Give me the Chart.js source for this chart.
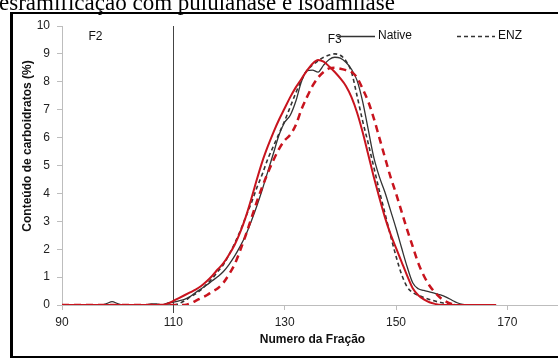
<!DOCTYPE html>
<html><head><meta charset="utf-8">
<script src="https://cdn.jsdelivr.net/npm/chart.js@4.4.1/dist/chart.umd.min.js"></script>
<style>html,body{margin:0;padding:0;overflow:hidden;background:#fff;width:558px;height:360px}canvas{display:block}</style>
</head><body>
<canvas id="c" width="564" height="360"></canvas>
<script>
// Tick labels
const xTicks = [90, 110, 130, 150, 170];
const yTicks = [0, 1, 2, 3, 4, 5, 6, 7, 8, 9, 10];

// Native (black solid)
const nativeX = [90,97,98,99,100,101,105,106,107,108,109,110,111,112,113,114,115,116,117,118,119,120,121,122,123,124,125,126,127,128,129,130,131,132,133,134,135,136,137,138,139,140,141,142,143,144,145,146,147,148,149,150,151,152,153,154,155,156,157,158,159,160,161,162,163];
const nativeY = [0,0,0.05,0.12,0.05,0,0,0.04,0.04,0,0.08,0.1,0.15,0.2,0.3,0.45,0.58,0.72,0.87,1.02,1.2,1.45,1.75,2.1,2.5,3.0,3.55,4.15,4.8,5.45,6.1,6.55,6.8,7.3,8.0,8.4,8.42,8.35,8.6,8.8,8.88,8.85,8.7,8.45,8.05,7.3,6.3,5.3,4.6,4.05,3.4,2.75,2.05,1.37,0.8,0.58,0.52,0.47,0.42,0.36,0.28,0.18,0.08,0.02,0];

// ENZ (black dashed)
const enzX = [90,109,110,111,112,113,114,115,116,117,118,119,120,121,122,123,124,125,126,127,128,129,130,131,132,133,134,135,136,137,138,139,140,141,142,143,144,145,146,147,148,149,150,151,152,153,154,155,156,157,158,159,160,161];
const enzY = [0,0,0,0.05,0.15,0.28,0.4,0.55,0.75,0.95,1.2,1.45,1.8,2.2,2.65,3.15,3.65,4.2,4.7,5.25,5.7,6.15,6.6,7.1,7.6,8.05,8.4,8.6,8.75,8.88,8.96,9.0,8.95,8.75,8.35,7.5,6.6,5.8,4.95,4.1,3.3,2.5,1.75,1.1,0.65,0.45,0.35,0.27,0.2,0.14,0.09,0.05,0.02,0];

// Native 2 (red solid)
const redX = [90,108,109,110,111,112,113,114,115,116,117,118,119,120,121,122,123,124,125,126,127,128,129,130,131,132,133,134,135,136,137,138,139,140,141,142,143,144,145,146,147,148,149,150,151,152,153,154,155,156,157,158,168];
const redY = [0,0,0.05,0.15,0.25,0.35,0.45,0.55,0.68,0.85,1.05,1.28,1.5,1.8,2.15,2.6,3.15,3.8,4.5,5.15,5.7,6.2,6.65,7.05,7.45,7.8,8.1,8.4,8.65,8.78,8.72,8.55,8.35,8.12,7.85,7.45,6.9,6.2,5.4,4.6,3.85,3.15,2.55,2.05,1.55,1.05,0.6,0.35,0.2,0.1,0.04,0,0];

// ENZ 2 (red dashed)
const redEnzX = [90,112,113,114,115,116,117,118,119,120,121,122,123,124,125,126,127,128,129,130,131,132,133,134,135,136,137,138,139,140,141,142,143,144,145,146,147,148,149,150,151,152,153,154,155,156,157,158,159,160,161];
const redEnzY = [0,0,0.05,0.15,0.25,0.35,0.48,0.6,0.8,1.1,1.45,1.95,2.5,3.1,3.7,4.25,4.75,5.2,5.6,5.9,6.1,6.45,7.0,7.45,7.85,8.15,8.35,8.48,8.5,8.47,8.42,8.35,8.15,7.75,7.3,6.7,6.0,5.3,4.6,4.0,3.35,2.7,2.1,1.5,1.05,0.7,0.45,0.25,0.12,0.04,0];

const toPts = (xs, ys) => xs.map((x, i) => ({x: x, y: ys[i]}));

const DARK = '#333333';
const RED = '#c8141e';
const FONT = '"Liberation Sans", Arial, sans-serif';

const decor = {
  id: 'decor',
  beforeDatasetsDraw(chart) {
    const {ctx, chartArea, scales} = chart;
    const px = scales.x.getPixelForValue(110);
    ctx.save();
    ctx.strokeStyle = '#444';
    ctx.lineWidth = 1;
    ctx.beginPath();
    ctx.moveTo(Math.round(px) + 0.5, chartArea.top);
    ctx.lineTo(Math.round(px) + 0.5, chartArea.bottom + 8);
    ctx.stroke();
    ctx.restore();
  },
  afterDraw(chart) {
    const {ctx, chartArea, scales} = chart;
    ctx.save();
    // caption cut at top
    ctx.fillStyle = '#000';
    ctx.font = '23px "Liberation Serif", "Times New Roman", serif';
    ctx.textBaseline = 'alphabetic';
    ctx.textAlign = 'left';
    ctx.fillText('esramificação com pululanase e isoamilase', -1, 10);
    // frame
    ctx.fillRect(10, 12, 600, 2);
    ctx.fillRect(10, 12, 3, 346);
    ctx.fillRect(10, 356, 600, 2);
    // region labels
    ctx.fillStyle = '#111';
    ctx.font = '12px ' + FONT;
    ctx.textAlign = 'center';
    ctx.textBaseline = 'middle';
    ctx.fillText('F2', scales.x.getPixelForValue(96), scales.y.getPixelForValue(9.6));
    ctx.fillText('F3', scales.x.getPixelForValue(139), scales.y.getPixelForValue(9.5));
    // legend
    const items = [
      {label: chart.data.datasets[0].label, dash: [], x0: 337},
      {label: chart.data.datasets[1].label, dash: [4, 3], x0: 457}
    ];
    const ly = 36;
    items.forEach(it => {
      ctx.strokeStyle = DARK;
      ctx.lineWidth = 1.5;
      ctx.setLineDash(it.dash);
      ctx.beginPath();
      ctx.moveTo(it.x0, ly + 0.5);
      ctx.lineTo(it.x0 + 38, ly + 0.5);
      ctx.stroke();
      ctx.setLineDash([]);
      ctx.textAlign = 'left';
      ctx.fillText(it.label, it.x0 + 41, ly);
    });
    // axis titles
    ctx.font = 'bold 12px ' + FONT;
    ctx.textAlign = 'center';
    ctx.fillText('Numero da Fração', (chartArea.left + chartArea.right) / 2, 340);
    ctx.translate(28, 146);
    ctx.rotate(-Math.PI / 2);
    ctx.fillText('Conteúdo de carboidratos (%)', 0, 0);
    ctx.restore();
  }
};

new Chart(document.getElementById('c'), {
  type: 'line',
  data: {
    datasets: [
      {label: 'Native', data: toPts(nativeX, nativeY), borderColor: DARK, borderWidth: 1.3, borderDash: [], order: 2},
      {label: 'ENZ', data: toPts(enzX, enzY), borderColor: DARK, borderWidth: 1.6, borderDash: [4, 3], order: 3},
      {label: 'Native 2', data: toPts(redX, redY), borderColor: RED, borderWidth: 2, borderDash: [], order: 1},
      {label: 'ENZ 2', data: toPts(redEnzX, redEnzY), borderColor: RED, borderWidth: 2.5, borderDash: [7, 5], order: 0}
    ]
  },
  options: {
    responsive: false,
    animation: false,
    layout: {padding: {left: 0, top: 26, right: 1, bottom: 0}},
    plugins: {legend: {display: false}, tooltip: {enabled: false}, title: {display: false}},
    elements: {point: {radius: 0}, line: {cubicInterpolationMode: 'monotone', fill: false}},
    scales: {
      x: {
        type: 'linear', min: 90, max: 180,
        afterBuildTicks: s => { s.ticks = xTicks.map(v => ({value: v})); },
        afterFit: s => { s.height = 55; },
        grid: {display: true, drawOnChartArea: false, drawTicks: true, tickLength: 5, color: '#bdbdbd'},
        border: {display: true, color: '#bdbdbd', width: 1},
        ticks: {padding: 5, color: '#222', font: {size: 12, family: FONT}, maxRotation: 0, autoSkip: false}
      },
      y: {
        type: 'linear', min: 0, max: 10,
        afterBuildTicks: s => { s.ticks = yTicks.map(v => ({value: v})); },
        afterFit: s => { s.width = 62; },
        grid: {display: true, drawOnChartArea: false, drawTicks: true, tickLength: 5, color: '#bdbdbd'},
        border: {display: true, color: '#bdbdbd', width: 1},
        ticks: {padding: 7, color: '#222', font: {size: 12, family: FONT}, autoSkip: false}
      }
    }
  },
  plugins: [decor]
});
</script>
</body></html>
